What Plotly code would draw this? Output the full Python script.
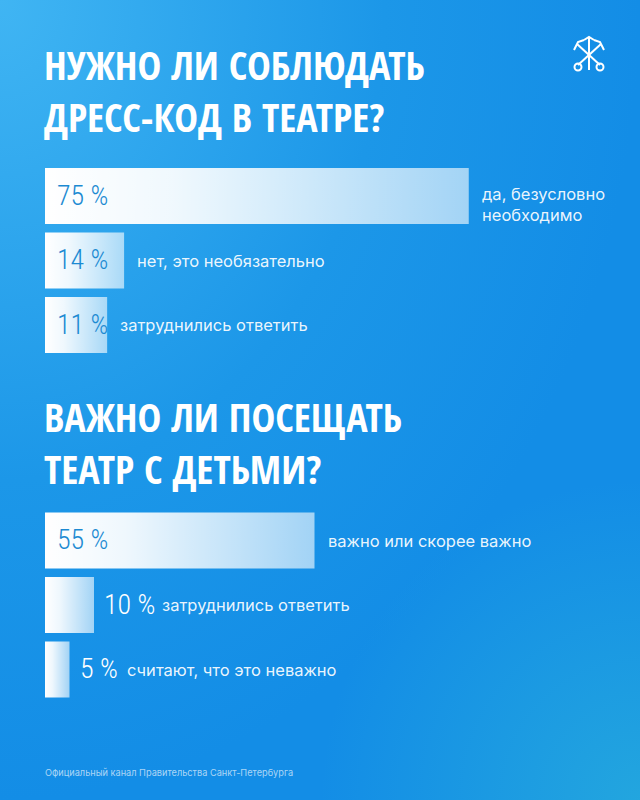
import plotly.graph_objects as go

W, H = 640, 800

# ---------------- data ----------------
title1 = ["НУЖНО ЛИ СОБЛЮДАТЬ", "ДРЕСС-КОД В ТЕАТРЕ?"]
cats1 = ["да, безусловно<br>необходимо", "нет, это необязательно", "затруднились ответить"]
vals1 = [75, 14, 11]

title2 = ["ВАЖНО ЛИ ПОСЕЩАТЬ", "ТЕАТР С ДЕТЬМИ?"]
cats2 = ["важно или скорее важно", "затруднились ответить", "считают, что это неважно"]
vals2 = [55, 10, 5]

footer = "Официальный канал Правительства Санкт-Петербурга"

# ---------------- helpers ----------------
def px(x):
    return x / W

def py(y):
    return 1 - y / H

TITLE_FONT = "Open Sans Condensed, Roboto Condensed, sans-serif"
PCT_FONT = "Roboto Condensed, sans-serif"
TXT_FONT = "Inter, Noto Sans, sans-serif"
PCT_BLUE = "#1c8ad2"

fig = go.Figure()

# ---------------- background ----------------
fig.add_trace(go.Scatter(
    x=[-1, 1, 1, -1, -1], y=[0, 0, 2, 2, 0], mode="lines", fill="toself",
    line=dict(width=0), hoverinfo="skip", showlegend=False,
    fillgradient=dict(type="radial", colorscale=[[0, "#40b5f3"], [0.6, "#1c97e8"], [1, "#138de6"]]),
    xaxis="x", yaxis="y"))
fig.add_trace(go.Scatter(
    x=[0.5, 1.5, 1.5, 0.5, 0.5], y=[-0.4, -0.4, 0.4, 0.4, -0.4], mode="lines", fill="toself",
    line=dict(width=0), hoverinfo="skip", showlegend=False,
    fillgradient=dict(type="radial", colorscale=[[0, "rgba(50,190,215,0.5)"], [1, "rgba(50,190,215,0)"]]),
    xaxis="x", yaxis="y"))

# ---------------- bars ----------------
BAR_SCALE = [[0, "rgba(255,255,255,1)"], [0.3, "rgba(255,255,255,0.93)"], [1, "rgba(255,255,255,0.6)"]]
HALF = 0.435

groups = [
    dict(vals=vals1, cats=cats1, xa="x2", ya="y2", ppp=5.65, dom_x=[px(45), px(45 + 565)],
         dom_y=[py(357.25), py(163.75)]),
    dict(vals=vals2, cats=cats2, xa="x3", ya="y3", ppp=4.9, dom_x=[px(45), px(45 + 490)],
         dom_y=[py(701.75), py(508.25)]),
]

annotations = []
for g in groups:
    for i, (v, c) in enumerate(zip(g["vals"], g["cats"])):
        fig.add_trace(go.Scatter(
            x=[0, v, v, 0, 0], y=[i - HALF, i - HALF, i + HALF, i + HALF, i - HALF],
            mode="lines", fill="toself", line=dict(width=0), hoverinfo="skip",
            showlegend=False, fillgradient=dict(type="horizontal", colorscale=BAR_SCALE),
            xaxis=g["xa"], yaxis=g["ya"]))
        label = f"{v} %"
        inside = v * g["ppp"] > 55
        if inside:
            annotations.append(dict(
                x=0, y=i, xref=g["xa"], yref=g["ya"], xanchor="left", yanchor="middle",
                xshift=10, yshift=1, text=label, showarrow=False,
                font=dict(family=PCT_FONT, size=28, weight=300, color=PCT_BLUE)))
            cat_shift = 11
        else:
            annotations.append(dict(
                x=v, y=i, xref=g["xa"], yref=g["ya"], xanchor="left", yanchor="middle",
                xshift=8, yshift=1, text=label, showarrow=False,
                font=dict(family=PCT_FONT, size=28, weight=300, color="white")))
            cat_shift = 22 + 11 * len(label)
        annotations.append(dict(
            x=v, y=i, xref=g["xa"], yref=g["ya"], xanchor="left", yanchor="middle",
            xshift=cat_shift, yshift=(-8 if "<br>" in c else 0), text=c, showarrow=False,
            align="left", font=dict(family=TXT_FONT, size=16.5, color="rgba(255,255,255,0.93)")))

# ---------------- titles ----------------
for lines, mid in ((title1, 90), (title2, 442)):
    annotations.append(dict(
        x=px(42), y=py(mid), xref="paper", yref="paper", xanchor="left", yanchor="middle",
        text="<b>" + "<br>".join(lines) + "</b>", showarrow=False, align="left",
        font=dict(family=TITLE_FONT, size=40, color="white")))

annotations.append(dict(
    x=px(43), y=py(772), xref="paper", yref="paper", xanchor="left", yanchor="middle",
    text=footer, showarrow=False, font=dict(family=TXT_FONT, size=9.2, color="rgba(255,255,255,0.65)")))

# ---------------- logo (emblem) ----------------
def pth(points):
    return "M " + " L ".join(f"{px(x)},{py(y)}" for x, y in points)

shapes = []
lw = dict(color="white", width=2)
shapes.append(dict(type="path", xref="paper", yref="paper", path=pth([(589, 38), (589, 70)]), line=lw))
shapes.append(dict(type="path", xref="paper", yref="paper", path=pth([(577, 44), (600, 65)]), line=lw))
shapes.append(dict(type="path", xref="paper", yref="paper", path=pth([(601, 44), (578, 65)]), line=lw))
shapes.append(dict(type="path", xref="paper", yref="paper", path=pth([(574, 50), (578, 42), (584, 40)]), line=lw))
shapes.append(dict(type="path", xref="paper", yref="paper", path=pth([(604, 50), (600, 42), (594, 40)]), line=lw))
shapes.append(dict(type="path", xref="paper", yref="paper", path=pth([(584, 40), (589, 37), (594, 40)]), line=lw))
for cx in (578, 600):
    shapes.append(dict(type="circle", xref="paper", yref="paper",
                       x0=px(cx - 3.5), x1=px(cx + 3.5), y0=py(70.5), y1=py(63.5), line=lw))

# ---------------- layout ----------------
hidden = dict(visible=False, fixedrange=True)
layout = dict(
    width=W, height=H, margin=dict(l=0, r=0, t=0, b=0),
    paper_bgcolor="#168fe6", plot_bgcolor="rgba(0,0,0,0)", showlegend=False,
    xaxis=dict(domain=[0, 1], range=[0, 1], **hidden),
    yaxis=dict(domain=[0, 1], range=[0, 1], **hidden),
    annotations=annotations, shapes=shapes,
)
for k, g in enumerate(groups, start=2):
    layout[f"xaxis{k}"] = dict(domain=g["dom_x"], range=[0, 100], anchor=f"y{k}", **hidden)
    layout[f"yaxis{k}"] = dict(domain=g["dom_y"], range=[2.5, -0.5], anchor=f"x{k}", **hidden)
fig.update_layout(**layout)

fig.write_html("out.html")
